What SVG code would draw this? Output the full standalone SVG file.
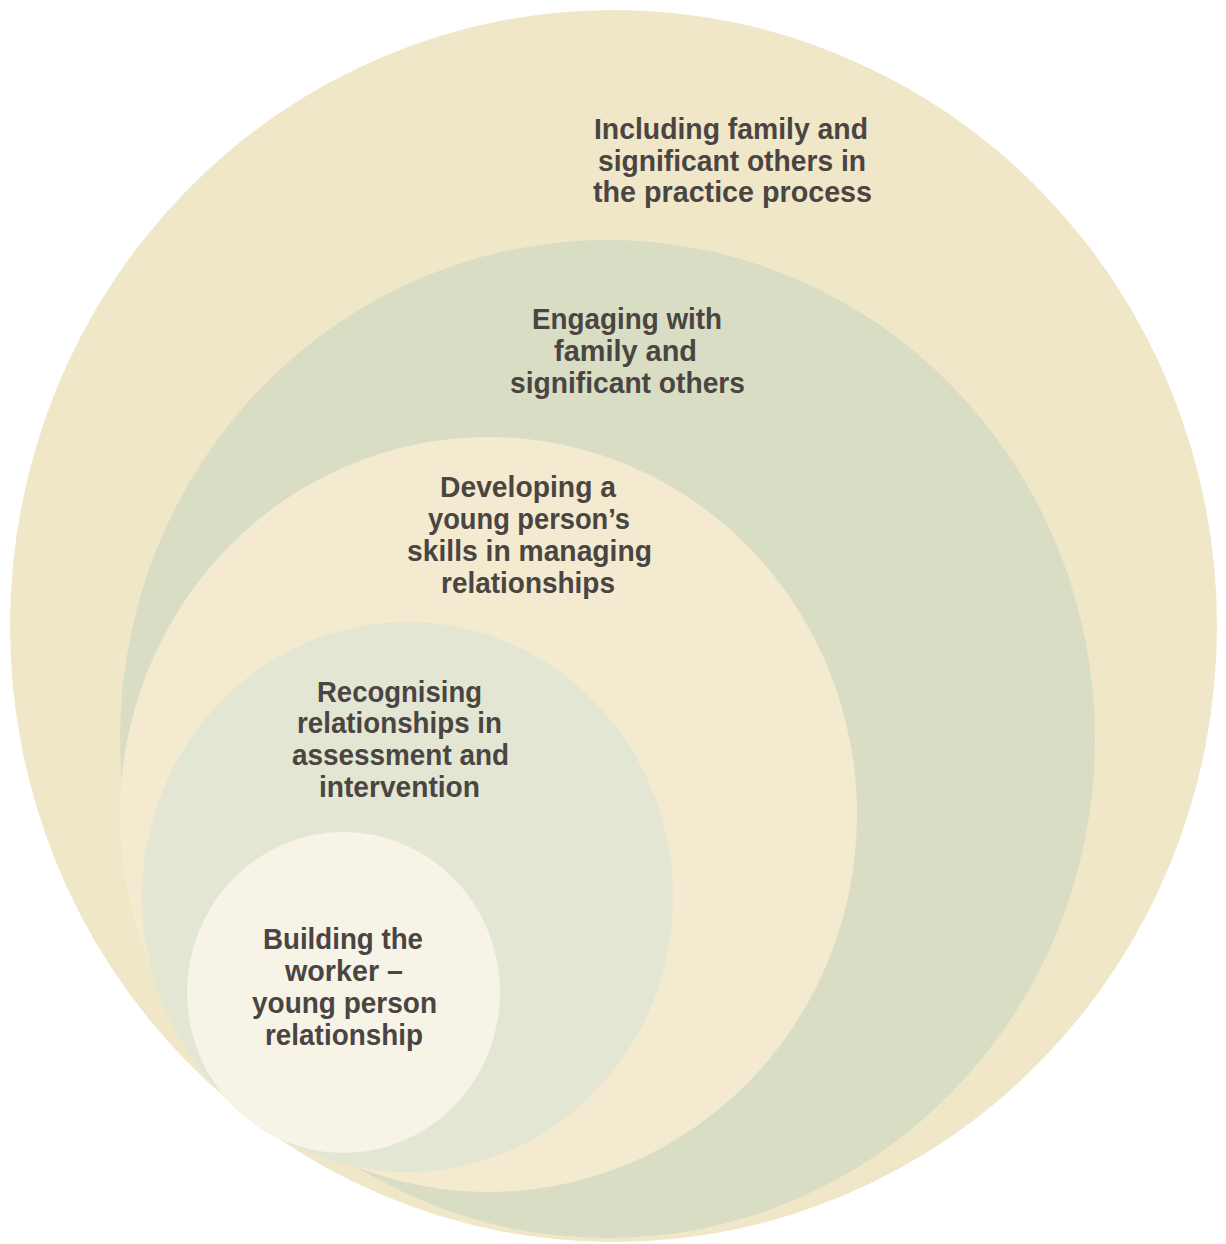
<svg xmlns="http://www.w3.org/2000/svg" width="1226" height="1244" viewBox="0 0 1226 1244">
<style>
text{font-family:"Liberation Sans",Arial,sans-serif;font-weight:bold;font-size:29px;fill:#4a4542;}
</style>
<rect width="1226" height="1244" fill="#ffffff"/>
<g id="node-outer">
<ellipse cx="613.5" cy="626" rx="603.5" ry="616" fill="#f0e7c8"/>
<text x="594" y="139" textLength="274" lengthAdjust="spacingAndGlyphs">Including family and</text>
<text x="598" y="171" textLength="268" lengthAdjust="spacingAndGlyphs">significant others in</text>
<text x="593" y="202" textLength="279" lengthAdjust="spacingAndGlyphs">the practice process</text>
</g>
<g id="node-engaging">
<ellipse cx="607.5" cy="739" rx="487.5" ry="499" fill="#d8ddc3"/>
<text x="532" y="329" textLength="190" lengthAdjust="spacingAndGlyphs">Engaging with</text>
<text x="554" y="361" textLength="143" lengthAdjust="spacingAndGlyphs">family and</text>
<text x="510" y="393" textLength="235" lengthAdjust="spacingAndGlyphs">significant others</text>
</g>
<g id="node-developing">
<ellipse cx="488.5" cy="814.5" rx="368.5" ry="377.5" fill="#f4ead0"/>
<text x="440" y="497" textLength="176" lengthAdjust="spacingAndGlyphs">Developing a</text>
<text x="428" y="529" textLength="202" lengthAdjust="spacingAndGlyphs">young person’s</text>
<text x="407" y="561" textLength="245" lengthAdjust="spacingAndGlyphs">skills in managing</text>
<text x="441" y="593" textLength="174" lengthAdjust="spacingAndGlyphs">relationships</text>
</g>
<g id="node-recognising">
<ellipse cx="407.5" cy="897" rx="265.5" ry="275" fill="#e3e6d3"/>
<text x="317" y="702" textLength="165" lengthAdjust="spacingAndGlyphs">Recognising</text>
<text x="297" y="733" textLength="205" lengthAdjust="spacingAndGlyphs">relationships in</text>
<text x="292" y="765" textLength="217" lengthAdjust="spacingAndGlyphs">assessment and</text>
<text x="319" y="797" textLength="161" lengthAdjust="spacingAndGlyphs">intervention</text>
</g>
<g id="node-building">
<ellipse cx="343.5" cy="992.5" rx="156.5" ry="160.5" fill="#f7f3e7"/>
<text x="263" y="949" textLength="160" lengthAdjust="spacingAndGlyphs">Building the</text>
<text x="285" y="981" textLength="118" lengthAdjust="spacingAndGlyphs">worker –</text>
<text x="252" y="1013" textLength="185" lengthAdjust="spacingAndGlyphs">young person</text>
<text x="265" y="1045" textLength="158" lengthAdjust="spacingAndGlyphs">relationship</text>
</g>
<g id="connectors"></g>
</svg>
